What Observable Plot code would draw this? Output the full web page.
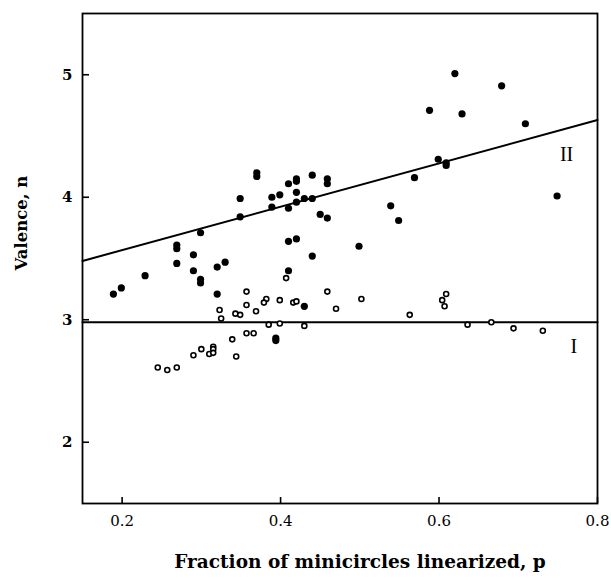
<!DOCTYPE html>
<html><head><meta charset="utf-8">
<script src="https://cdn.jsdelivr.net/npm/d3@7"></script>
<script src="https://cdn.jsdelivr.net/npm/@observablehq/plot@0.6"></script>
<style>body{margin:0;background:#fff}</style>
</head><body><div id="chart"></div>
<script>
// Series II (filled dots)
const filledX = [0.189,0.199,0.229,0.269,0.269,0.269,0.290,0.290,0.299,0.299,0.299,0.320,0.330,0.320,0.349,0.349,0.370,0.370,0.389,0.389,0.399,0.394,0.394,0.410,0.410,0.420,0.420,0.420,0.420,0.430,0.440,0.440,0.459,0.459,0.450,0.459,0.410,0.420,0.440,0.410,0.430,0.499,0.539,0.549,0.569,0.599,0.609,0.609,0.588,0.620,0.629,0.679,0.709,0.749];
const filledY = [3.21,3.26,3.36,3.61,3.58,3.46,3.53,3.40,3.71,3.33,3.30,3.43,3.47,3.21,3.99,3.84,4.20,4.17,4.00,3.92,4.02,2.85,2.83,4.11,3.91,4.15,4.13,4.04,3.96,3.99,4.18,3.99,4.15,4.11,3.86,3.83,3.64,3.66,3.52,3.40,3.11,3.60,3.93,3.81,4.16,4.31,4.28,4.26,4.71,5.01,4.68,4.91,4.60,4.01];
// Series I (open circles)
const openX = [0.357,0.382,0.379,0.399,0.323,0.325,0.343,0.349,0.369,0.385,0.399,0.357,0.366,0.339,0.290,0.300,0.310,0.315,0.315,0.315,0.344,0.245,0.257,0.269,0.357,0.407,0.416,0.420,0.459,0.470,0.502,0.430,0.563,0.604,0.609,0.607,0.636,0.666,0.694,0.731];
const openY = [3.23,3.17,3.14,3.16,3.08,3.01,3.05,3.04,3.07,2.96,2.97,2.89,2.89,2.84,2.71,2.76,2.72,2.78,2.76,2.73,2.70,2.61,2.59,2.61,3.12,3.34,3.14,3.15,3.23,3.09,3.17,2.95,3.04,3.16,3.21,3.11,2.96,2.98,2.93,2.91];
// Fitted lines
const lineX = [0.15, 0.8];
const lineIY = [2.98, 2.98];
const lineIIY = [3.48, 4.63];
// Line labels
const lineLabels = ["II", "I"];
const lineLabelX = [0.761, 0.770];
const lineLabelY = [4.35, 2.78];
// Axes
const xDomain = [0.15, 0.8];
const yDomain = [1.5, 5.5];
const xTicks = [0.2, 0.4, 0.6, 0.8];
const yTicks = [2, 3, 4, 5];
const xTitle = "Fraction of minicircles linearized, p";
const yTitle = "Valence, n";

const filled = filledX.map((x, i) => ({x, y: filledY[i]}));
const open = openX.map((x, i) => ({x, y: openY[i]}));
const lineI = lineX.map((x, i) => ({x, y: lineIY[i]}));
const lineII = lineX.map((x, i) => ({x, y: lineIIY[i]}));
const labels = lineLabels.map((t, i) => ({t, x: lineLabelX[i], y: lineLabelY[i]}));

const W = 611, H = 580, mL = 82, mR = 14, mT = 13, mB = 77;

const chart = Plot.plot({
  width: W, height: H,
  marginLeft: mL, marginRight: mR, marginTop: mT, marginBottom: mB,
  style: {fontFamily: "DejaVu Serif", background: "white", color: "black"},
  x: {domain: xDomain},
  y: {domain: yDomain},
  marks: [
    Plot.axisX(xTicks, {tickSize: -6, tickPadding: 18, strokeWidth: 1.6, tickFormat: d3.format(".1f"), fontSize: 15, label: null}),
    Plot.axisY(yTicks, {tickSize: -7, tickPadding: 17, strokeWidth: 1.6, tickFormat: d3.format("d"), fontSize: 15, fontWeight: "bold", label: null}),
    Plot.line(lineI, {x: "x", y: "y", stroke: "black", strokeWidth: 2}),
    Plot.line(lineII, {x: "x", y: "y", stroke: "black", strokeWidth: 2}),
    Plot.dot(open, {x: "x", y: "y", r: 2.5, stroke: "black", strokeWidth: 1.6, fill: "white"}),
    Plot.dot(filled, {x: "x", y: "y", r: 3.6, fill: "black", stroke: "none"}),
    Plot.text(labels, {x: "x", y: "y", text: "t", fontSize: 20, fontFamily: "Liberation Serif", fill: "black"}),
    Plot.text([xTitle], {frameAnchor: "bottom", dy: 64, dx: 20, fontSize: 18.5, fontWeight: "bold", fill: "black"}),
    Plot.text([yTitle], {frameAnchor: "left", dx: -61, dy: 12, rotate: -90, fontSize: 16.5, fontWeight: "bold", fill: "black"}),
    Plot.frame({stroke: "black", strokeWidth: 1.8})
  ]
});
document.getElementById("chart").appendChild(chart);
</script>
</body></html>
